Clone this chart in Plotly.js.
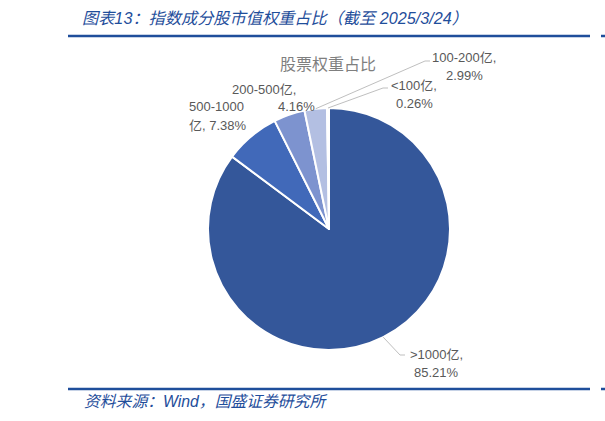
<!DOCTYPE html>
<html>
<head>
<meta charset="utf-8">
<script src="https://cdn.plot.ly/plotly-3.0.1.min.js"></script>
<style>
  body { margin: 0; background: #fff; }
  #chart { width: 605px; height: 421px; }
</style>
</head>
<body>
<div id="chart"></div>
<script>
// data
var categories = ['>1000亿', '500-1000亿', '200-500亿', '100-200亿', '<100亿'];
var weights = [85.21, 7.38, 4.16, 2.99, 0.26];
var colors = ['#34579a', '#4169b9', '#7d93cf', '#b3bfe2', '#d3daef'];

var headerText = '图表13：指数成分股市值权重占比（截至 2025/3/24）';
var pieTitle = '股票权重占比';
var sourceText = '资料来源：Wind，国盛证券研究所';

// page geometry in pixels, converted to paper fractions
var W = 605, H = 421;
var cx = 329, cy = 229, R = 121;
function px(x) { return x / W; }
function py(y) { return 1 - y / H; }

var blue = '#1f4e9b';
var labelFont = { family: '"Liberation Sans", "Noto Sans CJK SC", sans-serif', size: 13, color: '#595959' };

function pct(i) { return weights[i].toFixed(2) + '%'; }

/**
 * Point on the pie's rim at the middle of slice i
 * (slices run clockwise from 12 o'clock)
 */
function rimPoint(i) {
    var total = weights.reduce(function (a, b) { return a + b; }, 0);
    var before = 0;
    for (var k = 0; k < i; k++) before += weights[k];
    var ang = (before + weights[i] / 2) / total * 2 * Math.PI;
    return [cx + R * Math.sin(ang), cy - R * Math.cos(ang)];
}

// label layout: one entry per text line, plus the elbow of the leader line
var labels = [
    { i: 0, lines: [[categories[0] + ',', 437, 354], [pct(0), 437, 372]], elbow: [400, 355], end: [405, 355] },
    { i: 1, lines: [['500-1000', 187, 107, 'left'], ['亿, ' + pct(1), 187, 125, 'left']] },
    { i: 2, lines: [[categories[2] + ',', 264, 89], [pct(2), 296, 107]] },
    { i: 3, lines: [[categories[3] + ',', 464, 57], [pct(3), 464, 75]], elbow: [425, 61], end: [430, 61] },
    { i: 4, lines: [[categories[4] + ',', 414, 85], [pct(4), 414, 103]], elbow: [383, 88], end: [388, 88] }
];

var annotations = [];
var shapes = [];

labels.forEach(function (lb) {
    lb.lines.forEach(function (ln) {
        annotations.push({
            xref: 'paper', yref: 'paper',
            x: px(ln[1]), y: py(ln[2]),
            xanchor: ln[3] || 'center', yanchor: 'middle',
            text: ln[0], showarrow: false, font: labelFont
        });
    });
    if (lb.elbow) {
        var p = rimPoint(lb.i);
        shapes.push({
            type: 'path', xref: 'paper', yref: 'paper',
            path: 'M ' + px(p[0]) + ' ' + py(p[1]) +
                  ' L ' + px(lb.elbow[0]) + ' ' + py(lb.elbow[1]) +
                  ' L ' + px(lb.end[0]) + ' ' + py(lb.end[1]),
            line: { color: '#bfbfbf', width: 1 }
        });
    }
});

// header, pie title, source
annotations.push({
    xref: 'paper', yref: 'paper', x: px(80), y: py(18), xanchor: 'left', yanchor: 'middle',
    text: headerText, showarrow: false,
    font: { family: '"Liberation Sans", "Noto Sans CJK SC", sans-serif', size: 16.2, color: blue, style: 'italic' }
});
annotations.push({
    xref: 'paper', yref: 'paper', x: px(328), y: py(63), xanchor: 'center', yanchor: 'middle',
    text: pieTitle, showarrow: false,
    font: { family: '"Noto Sans CJK SC", sans-serif', size: 16, color: '#7f7f7f' }
});
annotations.push({
    xref: 'paper', yref: 'paper', x: px(82), y: py(401), xanchor: 'left', yanchor: 'middle',
    text: sourceText, showarrow: false,
    font: { family: '"Liberation Sans", "Noto Sans CJK SC", sans-serif', size: 15.8, color: blue, style: 'italic' }
});

// blue rules under the header and above the source
[36, 389].forEach(function (y) {
    shapes.push({ type: 'line', xref: 'paper', yref: 'paper', x0: px(68), x1: px(590), y0: py(y), y1: py(y), line: { color: blue, width: 2.5 } });
    shapes.push({ type: 'line', xref: 'paper', yref: 'paper', x0: px(601), x1: px(605), y0: py(y), y1: py(y), line: { color: blue, width: 2.5 } });
});

var trace = {
    type: 'pie',
    labels: categories,
    values: weights,
    sort: false,
    direction: 'clockwise',
    rotation: 0,
    textinfo: 'none',
    hoverinfo: 'label+percent',
    marker: { colors: colors, line: { color: '#ffffff', width: 2 } },
    domain: { x: [px(cx - R), px(cx + R)], y: [py(cy + R), py(cy - R)] }
};

var layout = {
    width: W, height: H,
    margin: { l: 0, r: 0, t: 0, b: 0 },
    paper_bgcolor: '#ffffff',
    showlegend: false,
    annotations: annotations,
    shapes: shapes
};

Plotly.newPlot('chart', [trace], layout, { displayModeBar: false, staticPlot: true });
</script>
</body>
</html>
